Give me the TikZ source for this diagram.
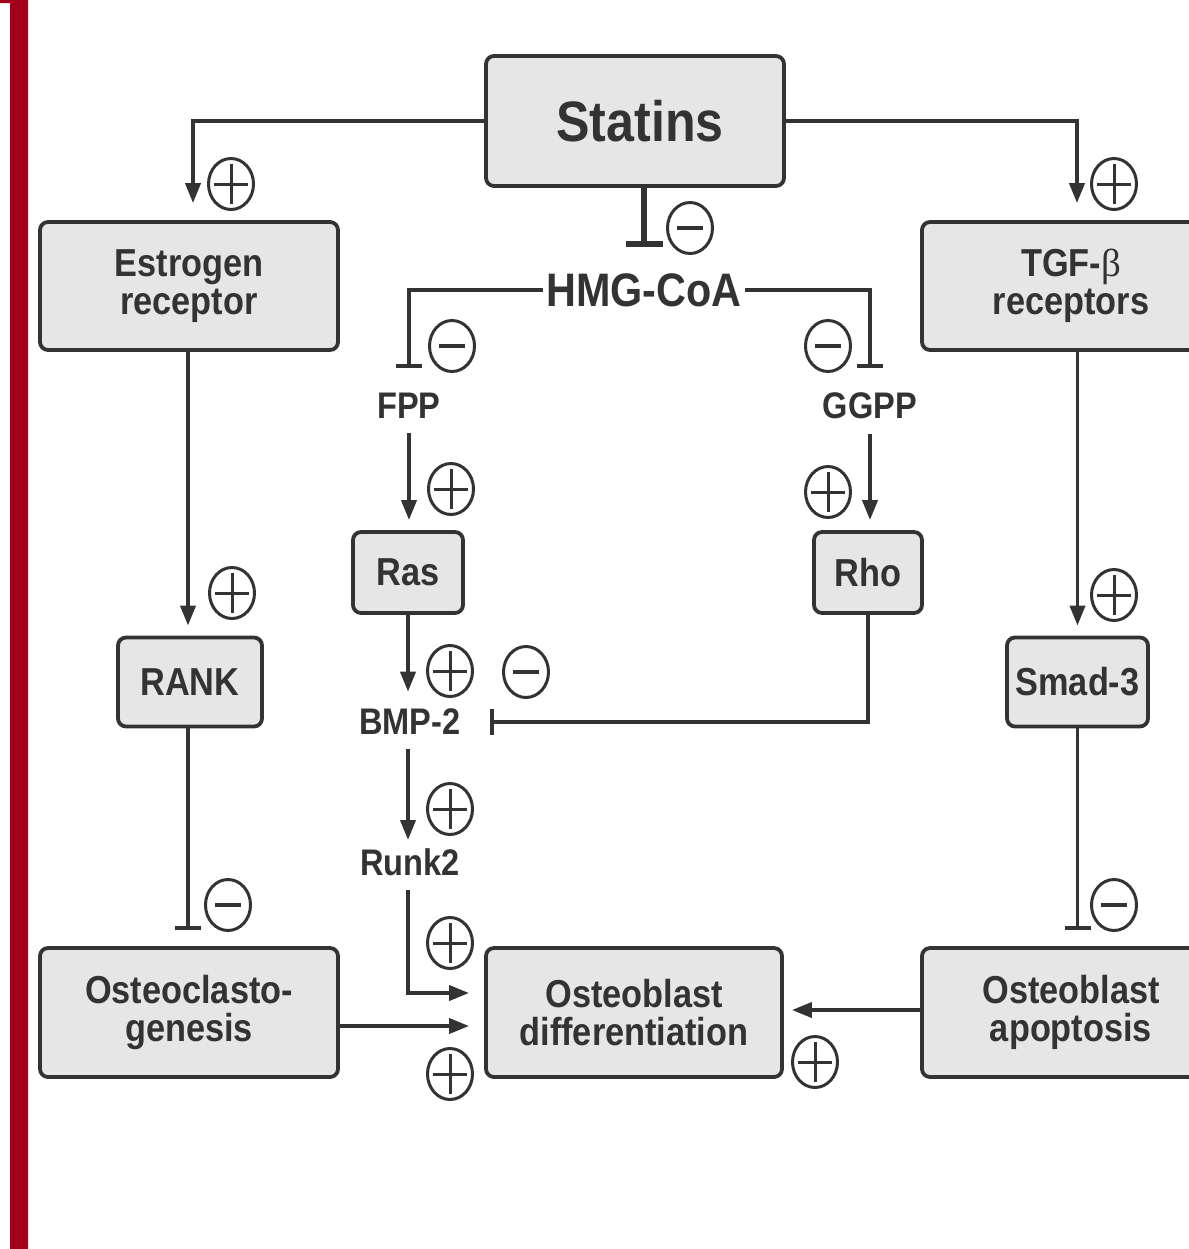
\documentclass[tikz,border=0pt]{standalone}
\usepackage{fontspec}
\setmainfont{Liberation Sans}[FakeStretch=0.88]
\newfontfamily\greekfont{Liberation Serif}
\usepackage{tikz}
\usetikzlibrary{arrows.meta, shapes.geometric}
\definecolor{ink}{HTML}{333333}
\definecolor{boxfill}{HTML}{E6E6E6}
\definecolor{spine}{HTML}{A2001D}
\newcommand{\tgfb}{{\greekfont\mdseries β}}

\begin{document}
\begin{tikzpicture}[
      x=0.5pt, y=-0.5pt,
      font=\bfseries, text=ink,
      >={Triangle[length=10pt,width=7.5pt]},
      boxed/.style={draw=ink, fill=boxfill, line width=1.9pt, rounded corners=4pt,
                    align=center, inner sep=0pt,
                    font=\fontsize{19.5}{19}\selectfont\bfseries},
      plain/.style={inner sep=3pt, font=\fontsize{18.5}{19}\selectfont\bfseries},
      flow/.style={->, line width=1.9pt, draw=ink},
      inhib/.style={-{Bar[width=13pt]}, line width=1.9pt, draw=ink},
      sgn/.style={ellipse, draw=ink, line width=1.5pt, minimum width=22.5pt,
                  minimum height=25.5pt, inner sep=0pt},
      plussign/.style={sgn, path picture={
          \draw[ink, line width=1.5pt]
            ([xshift=-8.5pt]path picture bounding box.center) -- ([xshift=8.5pt]path picture bounding box.center)
            ([yshift=-10pt]path picture bounding box.center) -- ([yshift=10pt]path picture bounding box.center);}},
      minussign/.style={sgn, path picture={
          \draw[ink, line width=1.6pt]
            ([xshift=-6.5pt]path picture bounding box.center) -- ([xshift=6.5pt]path picture bounding box.center);}}
  ]
    \useasboundingbox (0,0) rectangle (1189,1249);
    \clip (0,0) rectangle (1189,1249);
    \fill[spine] (0,0) rectangle (28,3) (10,0) rectangle (28,1249);

    % boxes
    \node[boxed, font=\fontsize{28.5}{30}\selectfont\bfseries, minimum width=149pt, minimum height=65pt] (statins) at (635,121) {\hspace*{5pt}Statins};
    \node[boxed, minimum width=149pt, minimum height=64pt] (estr) at (189,286) {Estrogen\\receptor};
    \node[boxed, minimum width=149pt, minimum height=64pt] (tgf) at (1071,286) {TGF-\tgfb\\receptors};
    \node[boxed, minimum width=55pt, minimum height=40.5pt] (ras) at (408,572.5) {Ras};
    \node[boxed, minimum width=54pt, minimum height=40.5pt] (rho) at (868,572.5) {Rho};
    \node[boxed, minimum width=72pt, minimum height=44.5pt] (rank) at (190,682) {RANK};
    \node[boxed, minimum width=70.5pt, minimum height=44.5pt] (smad) at (1077.5,682) {Smad-3};
    \node[boxed, minimum width=149pt, minimum height=64.5pt] (ocg) at (189,1012.5) {Osteoclasto-\\genesis};
    \node[boxed, minimum width=148pt, minimum height=64.5pt] (obd) at (634,1012.5) {Osteoblast\\differentiation};
    \node[boxed, minimum width=149pt, minimum height=64.5pt] (oba) at (1071,1012.5) {Osteoblast\\apoptosis};

    % metabolites
    \node[plain, inner sep=1.5pt, font=\fontsize{23.5}{24}\selectfont\bfseries] (hmg) at (644,290) {HMG-CoA};
    \node[plain] (fpp)  at (409,406) {FPP};
    \node[plain] (ggpp) at (870,406) {GGPP};
    \node[plain] (bmp)  at (410,722) {BMP-2};
    \node[plain] (runk) at (410,862) {Runk2};

    % connectors
    \draw[flow, shorten >=8.5pt] (statins.west) -| ([xshift=2pt]estr.north);
    \draw[flow, shorten >=8.5pt] (statins.east) -| ([xshift=3pt]tgf.north);
    \draw[-{Bar[width=18.5pt]}, line width=3pt, draw=ink, shorten >=11.5pt] (statins.south -| hmg.north) -- (hmg.north);
    \draw[inhib, shorten >=9.5pt] (hmg.west) -| (fpp.north);
    \draw[inhib, shorten >=9.5pt] (hmg.east) -| (ggpp.north);
    \draw[flow, shorten <=4pt, shorten >=5pt] (fpp.south) -- (fpp.south |- ras.north);
    \draw[flow, shorten <=4pt, shorten >=5pt] (ggpp.south) -- (ggpp.south |- rho.north);
    \draw[flow, shorten >=5.5pt] (ras.south) -- (ras.south |- bmp.north);
    \draw[inhib, shorten >=11.5pt] (rho.south) |- (bmp.east);
    \draw[flow, shorten <=4pt, shorten >=1pt] (bmp.south -| ras.south) -- (runk.north -| ras.south);
    \draw[flow, shorten <=4pt, shorten >=7.5pt] (runk.south -| ras.south) |- ([yshift=9.75pt]obd.west);
    \draw[flow, shorten >=7.5pt] ([yshift=-6.75pt]ocg.east) -- ([yshift=-6.75pt]obd.west);
    \draw[flow, shorten >=4pt] ([yshift=1.25pt]oba.west) -- ([yshift=1.25pt]obd.east);
    \draw[flow, shorten >=5pt] ([xshift=-0.5pt]estr.south) -- ([xshift=-0.5pt]estr.south |- rank.north);
    \draw[flow, shorten >=5pt] (smad.north |- tgf.south) -- (smad.north);
    \draw[inhib, shorten >=8pt] ([xshift=-1pt]rank.south) -- ([xshift=-1pt]rank.south |- ocg.north);
    \draw[inhib, shorten >=8pt] (smad.south) -- (smad.south |- oba.north);

    % signs
    \node[plussign] (p1)  at (231,184) {};
    \node[plussign] (p2)  at (1114,184) {};
    \node[plussign] (p3)  at (451,489) {};
    \node[plussign] (p4)  at (828,492) {};
    \node[plussign] (p5)  at (232,593) {};
    \node[plussign] (p6)  at (1114,595) {};
    \node[plussign] (p7)  at (450,671) {};
    \node[plussign] (p8)  at (450,809) {};
    \node[plussign] (p9)  at (450,943) {};
    \node[plussign] (p10) at (450,1074) {};
    \node[plussign] (p11) at (815,1062) {};
    \node[minussign] (m1)  at (690,228) {};
    \node[minussign] (m2)  at (452,346) {};
    \node[minussign] (m3)  at (828,346) {};
    \node[minussign] (m4)  at (526,672) {};
    \node[minussign] (m5)  at (228,905) {};
    \node[minussign] (m6)  at (1114,905) {};
  \end{tikzpicture}
\end{document}
